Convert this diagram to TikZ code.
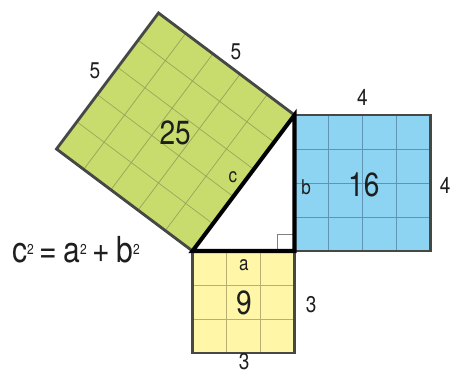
\documentclass[tikz,border=0pt]{standalone}
\usepackage{fontspec}
\setmainfont{TeX Gyre Heros}[FakeStretch=0.84]
\definecolor{sqgreen}{RGB}{200,220,110}
\definecolor{gridgreen}{RGB}{150,168,90}
\definecolor{sqblue}{RGB}{140,212,242}
\definecolor{gridblue}{RGB}{95,148,178}
\definecolor{sqyellow}{RGB}{255,246,168}
\definecolor{gridyellow}{RGB}{185,175,115}
\definecolor{edgegray}{RGB}{70,72,70}
\definecolor{ink}{RGB}{30,30,30}
\newcommand{\sqr}{\raisebox{7pt}{\fontsize{12}{12}\selectfont 2}}
\begin{document}
\begin{tikzpicture}[
  side/.style={draw=edgegray,line width=2.4pt,line join=miter},
  cell/.style={line width=0.6pt},
  leg/.style={text=ink,inner sep=0pt,font=\fontsize{19}{19}\selectfont},
  letter/.style={text=ink,inner sep=0pt,font=\fontsize{17}{17}\selectfont},
  area/.style={text=ink,inner sep=0pt,font=\fontsize{28}{28}\selectfont},
  law/.style={text=ink,inner sep=0pt,font=\fontsize{30}{30}\selectfont}]
\useasboundingbox (-8.662,-3.794) rectangle (4.603,7.382);
\coordinate (A) at (-3,0);
\coordinate (C) at (0,0);
\coordinate (B) at (0,4);
% square on a
\fill[sqyellow] (A) rectangle (0,-3);
\draw[cell,draw=gridyellow,step=1] (A) grid (0,-3);
\draw[side] (A) rectangle (0,-3);
% square on b
\fill[sqblue] (C) rectangle (4,4);
\draw[cell,draw=gridblue,step=1] (C) grid (4,4);
\draw[side] (C) rectangle (4,4);
% square on c
\begin{scope}[shift={(A)},rotate=53.13]
\fill[sqgreen] (0,0) rectangle (5,5);
\draw[cell,draw=gridgreen,step=1] (0,0) grid (5,5);
\draw[side] (0,0) rectangle (5,5);
\end{scope}
% triangle
\draw[gray,line width=0.6pt] (-0.5,0) |- (0,0.5);
\draw[line width=3.4pt,line join=miter] (A) -- (C) -- (B) -- cycle;
\node[area] (n25) at (-3.51,3.47) {25};
\node[area] (n16) at (2.04,1.94) {16};
\node[area] (n9) at (-1.49,-1.53) {9};
\node[letter] (la) at (-1.49,-0.41) {a};
\node[letter] (lb) at (0.34,1.88) {b};
\node[letter] (lc) at (-1.81,2.18) {c};
\node[leg] (c5l) at (-5.87,5.29) {5};
\node[leg] (c5t) at (-1.72,5.85) {5};
\node[leg] (b4t) at (2.0,4.53) {4};
\node[leg] (b4r) at (4.43,1.94) {4};
\node[leg] (a3r) at (0.49,-1.59) {3};
\node[leg] (a3b) at (-1.48,-3.26) {3};
\node[law] (eq) at (-6.43,0.03) {c\sqr\,=\,a\sqr\,+\,b\sqr};
\end{tikzpicture}
\end{document}
